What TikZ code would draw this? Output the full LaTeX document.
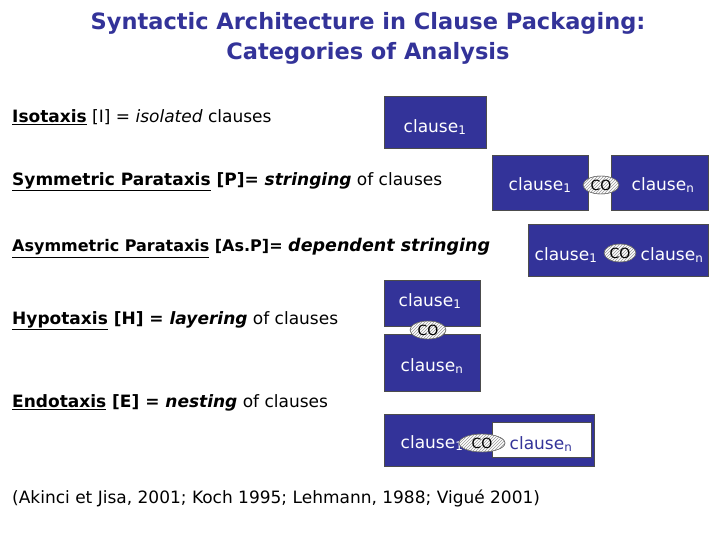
\documentclass[tikz,border=0pt]{standalone}
\usepackage{fontspec}
\setmainfont{DejaVu Sans}
\usetikzlibrary{shapes.geometric,patterns}
\newcommand{\uln}[1]{\underline{#1}}
\newcommand{\sbs}[1]{\textsubscript{#1}}
\definecolor{navy}{RGB}{51,51,153}
\begin{document}
\begin{tikzpicture}[x=1pt,y=-1pt,
  cbox/.style={fill=navy,draw=black!70,line width=0.6pt},
  ctext/.style={text=white,font=\fontsize{17}{19}\selectfont,inner sep=0},
  coell/.style={ellipse,draw=black!60,pattern=north east lines,pattern color=black!40,font=\fontsize{14}{15}\selectfont,inner sep=0,minimum width=36,minimum height=18},
  lab/.style={anchor=west,inner sep=0,font=\fontsize{17}{19}\selectfont}]
\useasboundingbox (0,0) rectangle (720,540);
\node[text=navy,font=\bfseries\fontsize{22.5}{30}\selectfont,align=center] (title) at (368,38) {Syntactic Architecture in Clause Packaging:\\Categories of Analysis};
\node[lab] (l1) at (12,117) {\textbf{\uln{Isotaxis}} [I] = \textit{isolated} clauses};
\node[lab] (l2) at (12,182) {\textbf{\uln{Symmetric Parataxis} [P]= \textit{stringing}} of clauses};
\node[lab] (l3) at (12,248) {\fontsize{16}{19}\selectfont\textbf{\uln{Asymmetric Parataxis} [As.P]= {\fontsize{17.5}{19}\selectfont\textit{dependent stringing}}}};
\node[lab] (l4) at (12,321) {\textbf{\uln{Hypotaxis} [H] = \textit{layering}} of clauses};
\node[lab] (l5) at (12,403) {\textbf{\uln{Endotaxis} [E] = \textit{nesting}} of clauses};
\node[lab] (ref) at (12,498) {(Akinci et Jisa, 2001; Koch 1995; Lehmann, 1988; Vigué 2001)};
% isotaxis
\draw[cbox] (384,96) rectangle (486,148);
\node[ctext] (i1) at (435,127) {clause\sbs{1}};
% parataxis
\draw[cbox] (492,155) rectangle (588,210);
\draw[cbox] (611,155) rectangle (708,210);
\node[ctext] (p1) at (540,185) {clause\sbs{1}};
\node[ctext] (pn) at (663,185) {clause\sbs{n}};
\node[coell,fill=white] at (601,185) {};
\node[coell] (pco) at (601,185) {CO};
% asym
\draw[cbox] (528,224) rectangle (708,276);
\node[ctext] (a1) at (566,255) {clause\sbs{1}};
\node[coell,fill=white,minimum width=32] at (620,253) {};
\node[coell,minimum width=32] (aco) at (620,253) {CO};
\node[ctext] (an) at (672,255) {clause\sbs{n}};
% hypotaxis
\draw[cbox] (384,280) rectangle (480,326);
\draw[cbox] (384,334) rectangle (480,391);
\node[ctext] (h1) at (430,301) {clause\sbs{1}};
\node[ctext] (hn) at (432,366) {clause\sbs{n}};
\node[coell,fill=white] at (428,330) {};
\node[coell] (hco) at (428,330) {CO};
% endotaxis
\draw[cbox] (384,414) rectangle (594,466);
\draw[fill=white,draw=black!70] (492,422) rectangle (591,457);
\node[ctext] (e1) at (432,443) {clause\sbs{1}};
\node[ctext,text=navy] (en) at (541,444) {clause\sbs{n}};
\node[coell,fill=white,minimum width=46] at (482,443) {};
\node[coell,minimum width=46] (eco) at (482,443) {CO};
\end{tikzpicture}
\end{document}
